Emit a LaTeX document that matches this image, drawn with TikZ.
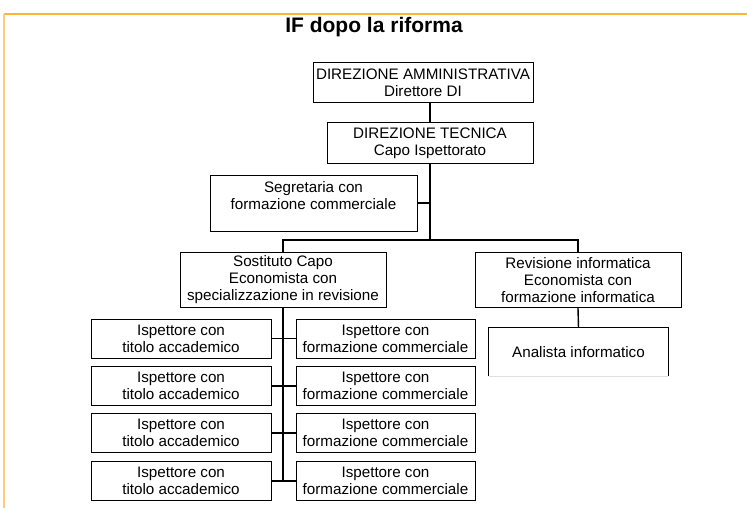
\documentclass[tikz,border=0pt]{standalone}
\usepackage{fontspec}
\setmainfont{Liberation Sans}
\definecolor{frametop}{HTML}{FBB33A}
\definecolor{frameleft}{HTML}{FFCB7A}
\begin{document}
\begin{tikzpicture}[x=1pt,y=-1pt,
  box/.style={draw=black, line width=1pt, align=center, inner sep=0pt, font=\fontsize{15.2}{17}\selectfont},
  lbl/.style={align=center, inner sep=0pt, font=\fontsize{15.2}{17}\selectfont},
  conn/.style={draw=black, line width=1.4pt}]
\useasboundingbox (0,0) rectangle (747,508);
% frame
\draw[frametop, line width=1.6pt] (4,14) -- (747,14);
\draw[frameleft, line width=1.6pt] (4,14) -- (4,508);
% title
\node[font=\fontsize{21}{24}\selectfont\bfseries, inner sep=0pt] (title) at (374,27) {IF dopo la riforma};
% top boxes
\node[box, minimum width=220, minimum height=40] (dir) at (423,83) {DIREZIONE AMMINISTRATIVA\\Direttore DI};
\node[box, minimum width=206, minimum height=41] (tec) at (430,143) {DIREZIONE TECNICA\\Capo Ispettorato};
\node[box, minimum width=207, minimum height=56] (seg) at (313.5,203) {};
\node[lbl] (segt) at (313.5,196) {Segretaria con\\formazione commerciale};
\node[box, minimum width=206, minimum height=55] (sos) at (283,280) {Sostituto Capo\\Economista con\\specializzazione in revisione};
\node[box, minimum width=206, minimum height=55] (rev) at (578,280) {Revisione informatica\\Economista con\\formazione informatica};
\node[lbl, minimum width=179, minimum height=48] (ana) at (578.5,352) {Analista informatico};
\draw[black, line width=1pt] (ana.south west) -- (ana.north west) -- (ana.north east) -- (ana.south east);
\draw[black!12, line width=1pt] (ana.south west) -- (ana.south east);
% inspector rows
\foreach \i/\y in {1/338.5, 2/386, 3/433, 4/481} {
  \node[box, minimum width=180, minimum height=39] (L\i) at (181,\y) {Ispettore con\\titolo accademico};
  \node[box, minimum width=179, minimum height=39] (R\i) at (385.5,\y) {Ispettore con\\formazione commerciale};
}
% connectors
\coordinate (j) at (430,240);
\draw[conn] (tec.north) -- (tec.north |- dir.south);
\draw[conn] (tec.south) -- (j);
\draw[conn] (seg.east) -- (seg.east -| j);
\draw[conn] (sos.north) -- (sos.north |- j) -- (rev.north |- j) -- (rev.north);
\draw[conn] (rev.south) -- (ana.north);
\draw[conn] (sos.south) -- (sos.south |- L4.east);
\foreach \i in {1,2,3,4} { \draw[conn] (L\i.east) -- (R\i.west); }
\end{tikzpicture}
\end{document}
